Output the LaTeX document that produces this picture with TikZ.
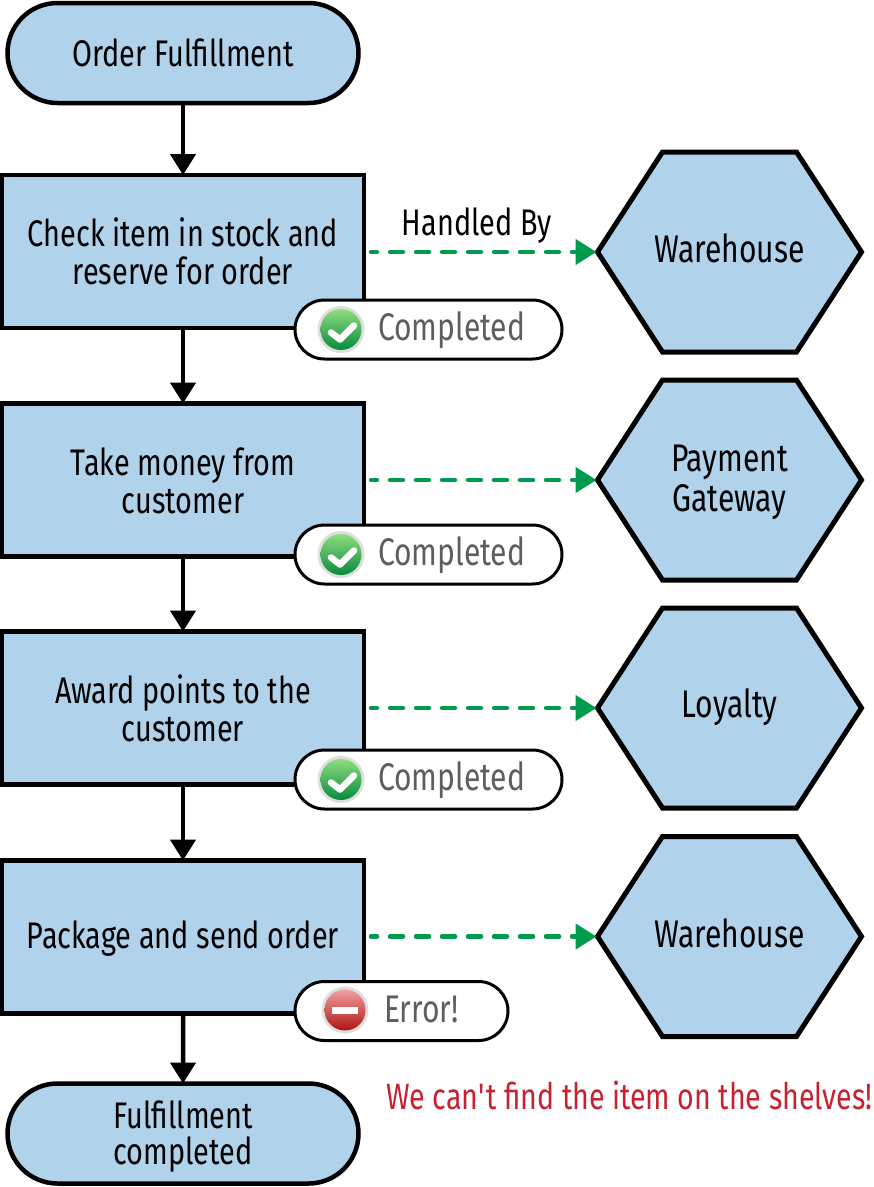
\documentclass[tikz,border=0pt]{standalone}
\usepackage{fontspec}
\setmainfont{Fira Sans}[FakeStretch=0.78]
\usetikzlibrary{arrows.meta,shapes.misc}
\definecolor{boxblue}{HTML}{B0D2EA}
\definecolor{dgreen}{HTML}{009B4C}
\definecolor{bgray}{HTML}{5E5E5E}
\definecolor{redtxt}{HTML}{C8202F}
\definecolor{oktop}{HTML}{8FDD7F}
\definecolor{okmid}{HTML}{2CBF33}
\definecolor{okbot}{HTML}{078A3E}
\definecolor{errtop}{HTML}{F2A0A0}
\definecolor{errmid}{HTML}{E04A4A}
\definecolor{errbot}{HTML}{B01414}
\tikzset{
 x=1pt,y=-1pt,
 every node/.style={inner sep=0pt,outer sep=0pt,font=\fontsize{37}{38}\selectfont,align=center},
 terminal/.style={draw=black,line width=4.5pt,fill=boxblue,rounded rectangle,minimum width=351pt,minimum height=100pt},
 taskbox/.style={draw=black,line width=4.5pt,fill=boxblue,rectangle,minimum width=362pt,minimum height=153pt},
 hexline/.style={draw=black,line width=5pt,fill=boxblue,line join=miter},
 hexa/.style={rectangle,minimum width=266pt,minimum height=200pt},
 hexlabel/.style={font=\fontsize{38.5}{40}\selectfont},
 flow/.style={line width=4.5pt,-{Triangle[length=21pt,width=25pt]},black},
 handled/.style={line width=4.5pt,dgreen,line cap=round,dash pattern=on 13pt off 13pt,dash phase=7pt,-{Triangle[length=21pt,width=25pt,fill=dgreen,line cap=butt]}},
 badge/.style={draw=black,line width=3pt,fill=white,rounded rectangle,minimum height=59pt},
 badgetext/.style={text=bgray,anchor=west,font=\fontsize{38.5}{40}\selectfont},
 ring/.style={circle,fill=black!13,minimum size=47pt},
 okball/.style={circle,top color=oktop,middle color=okmid,bottom color=okbot,minimum size=41pt},
 errball/.style={circle,top color=errtop,middle color=errmid,bottom color=errbot,minimum size=41pt},
}
\newcommand{\hexat}[5]{%
  \draw[hexline] (#2-132,#3) -- (#2-67,#3-100) -- (#2+67,#3-100) -- (#2+132,#3) -- (#2+67,#3+100) -- (#2-67,#3+100) -- cycle;
  \node[hexa] (#1) at (#2,#3) {};
  \node[hexlabel] (#1l) at (#2,#3+#5) {#4};
}
\begin{document}
\begin{tikzpicture}
\useasboundingbox (0,0) rectangle (874,1187);
\node[terminal] (start) at (183,53) {Order Fulfillment};
\node[taskbox] (t1) at (183,251.5) {Check item in stock and\\reserve for order};
\node[taskbox] (t2) at (183,480) {\rule{0pt}{30pt}Take money from\\customer};
\node[taskbox] (t3) at (183,708) {Award points to the\\customer};
\node[taskbox] (t4) at (183,937) {\rule{0pt}{30pt}Package and send order};
\node[terminal,font=\fontsize{37}{36}\selectfont] (end) at (183,1133.5) {\rule{0pt}{33pt}Fulfillment\\completed};
\hexat{h1}{729.5}{252}{Warehouse}{-4}
\hexat{h2}{729.5}{480}{Payment\\Gateway}{2}
\hexat{h3}{729.5}{708}{Loyalty}{-1}
\hexat{h4}{729.5}{936.5}{Warehouse}{-3}
\draw[flow] (start) -- (t1);
\draw[flow] (t1) -- (t2);
\draw[flow] (t2) -- (t3);
\draw[flow] (t3) -- (t4);
\draw[flow] (t4) -- (end);
\draw[handled] ([xshift=7pt]t1.east |- h1.west) -- (h1.west);
\draw[handled] ([xshift=7pt]t2.east |- h2.west) -- (h2.west);
\draw[handled] ([xshift=7pt]t3.east |- h3.west) -- (h3.west);
\draw[handled] ([xshift=7pt]t4.east |- h4.west) -- (h4.west);
\node (hb) at (477,226) {Handled By};
% badges
\foreach \n/\y in {1/329.5,2/554.5,3/779.5}{
  \node[badge,minimum width=267pt] (b\n) at (428.5,\y) {};
  \node[ring] (r\n) at (341,\y) {};
  \node[okball] (o\n) at (341,\y) {};
  \draw[white,line width=6.5pt,line cap=round,line join=round] (331,\y+3) -- (340,\y+10) -- (354,\y-4);
  \node[badgetext] (c\n) at (378,\y+1) {Completed};
}
\node[badge,minimum width=213pt] (b4) at (401.5,1011) {};
\node[ring] (r4) at (345,1010) {};
\node[errball] (o4) at (345,1010) {};
\fill[white] (332,1006.5) rectangle (358,1014);
\node[badgetext] (c4) at (384,1009) {Error!};
\node[text=redtxt,font=\fontsize{36.6}{38}\selectfont] (msg) at (629.5,1095) {We can\textquotesingle t find the item on the shelves!};
\end{tikzpicture}
\end{document}
